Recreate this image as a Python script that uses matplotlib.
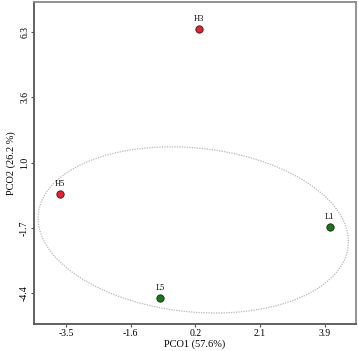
import numpy as np
import matplotlib
matplotlib.use("Agg")
import matplotlib.pyplot as plt

plt.rcParams['font.family'] = ['Liberation Serif', 'DejaVu Serif']

# sample scores
names = ["H3", "H5", "L1", "L5"]
pco1 = [0.3, -3.67, 4.04, -0.81]
pco2 = [6.44, -0.33, -1.69, -4.6]
groups = ["H", "H", "L", "L"]
colors = {"H": "#ee1c2e", "L": "#137a13"}

xticks = [-3.5, -1.65, 0.2, 2.05, 3.9]
xticklabels = ["-3.5", "-1.6", "0.2", "2.1", "3.9"]
yticks = [6.3, 3.625, 0.95, -1.725, -4.4]
yticklabels = ["6.3", "3.6", "1.0", "-1.7", "-4.4"]

# ellipse (center, semi-axes in data units, tilt)
ell_c = (0.14, -1.81)
ell_a = 4.45
ell_b = 3.36
ell_tilt = -6

fig = plt.figure(figsize=(3.59, 3.51), dpi=100)
ax = fig.add_axes([0.0947, 0.0769, 0.897, 0.917])

t = np.linspace(0, 2*np.pi, 400)
phi = np.deg2rad(ell_tilt)
# tilt done in pixel-like space (x scale ~35 px/unit, y ~24.4 px/unit)
sx, sy = 35.0, 24.4
px = ell_a*sx*np.cos(t)*np.cos(phi) - ell_b*sy*np.sin(t)*np.sin(phi)
py = ell_a*sx*np.cos(t)*np.sin(phi) + ell_b*sy*np.sin(t)*np.cos(phi)
ax.plot(ell_c[0] + px/sx, ell_c[1] + py/sy, ls=(0, (1, 1)), color="#b8b8b8", lw=0.9)

for n, x, y, g in zip(names, pco1, pco2, groups):
    ax.scatter(x, y, s=28, color=colors[g], edgecolors="#222222", linewidths=0.6, zorder=3)
    ax.annotate(n, (x, y), xytext=(0, 4), textcoords="offset points",
                ha="center", va="bottom", fontsize=6)

ax.set_xlim(-4.41, 4.79)
ax.set_ylim(-5.67, 7.53)
ax.set_xticks(xticks)
ax.set_xticklabels(xticklabels, fontsize=7)
ax.set_yticks(yticks)
ax.set_yticklabels(yticklabels, fontsize=7, rotation=90, va="center")
ax.tick_params(length=2, width=0.8, pad=1.5, color="#555555")
ax.set_xlabel("PCO1 (57.6%)", fontsize=7.5, labelpad=1)
ax.set_ylabel("PCO2 (26.2 %)", fontsize=7.5, labelpad=3)
for s in ["left", "bottom"]:
    ax.spines[s].set_color("#555555")
    ax.spines[s].set_linewidth(1.3)
for s in ["top", "right"]:
    ax.spines[s].set_color("#8a8a8a")
    ax.spines[s].set_linewidth(1.3)

fig.savefig("out.png", dpi=100)
